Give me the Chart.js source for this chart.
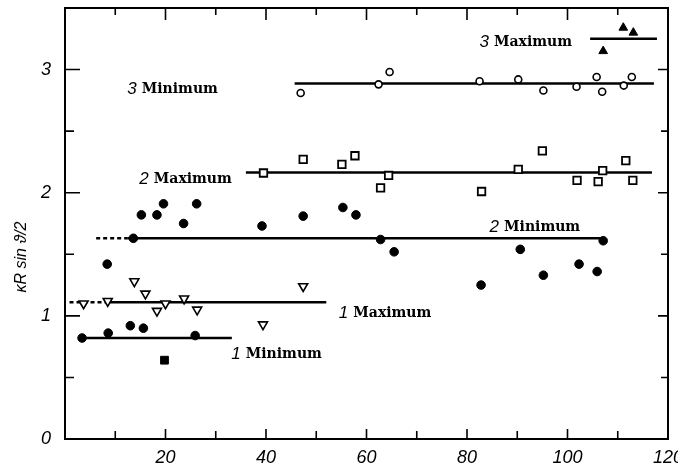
<!DOCTYPE html>
<html>
<head>
<meta charset="utf-8">
<script src="https://cdn.jsdelivr.net/npm/chart.js@4.4.1/dist/chart.umd.min.js"></script>
<style>
  html, body { margin:0; padding:0; background:#fff; }
  #wrap { width:678px; height:466px; }
</style>
</head>
<body>
<div id="wrap"><canvas id="chart" width="678" height="466"></canvas></div>
<script>
// ---- data ----
// filled circles, 1st minimum
const min1X = [3.4, 8.6, 13.0, 15.6, 25.9];
const min1Y = [0.82, 0.86, 0.92, 0.90, 0.84];
// filled square
const sqFilledX = [19.8];
const sqFilledY = [0.64];
// open triangles (down), 1st maximum
const max1X = [3.7, 8.5, 13.8, 16.0, 18.3, 20.0, 23.7, 26.3, 39.4, 47.4];
const max1Y = [1.10, 1.12, 1.28, 1.18, 1.04, 1.10, 1.14, 1.05, 0.93, 1.24];
// filled circles, 2nd minimum
const min2X = [8.4, 13.6, 15.2, 18.3, 19.6, 23.6, 26.2, 39.2, 47.4, 55.3, 57.9, 62.8, 65.5,
               82.8, 90.6, 95.2, 102.3, 105.9, 107.1];
const min2Y = [1.42, 1.63, 1.82, 1.82, 1.91, 1.75, 1.91, 1.73, 1.81, 1.88, 1.82, 1.62, 1.52,
               1.25, 1.54, 1.33, 1.42, 1.36, 1.61];
// open squares, 2nd maximum
const max2X = [39.5, 47.4, 55.1, 57.7, 62.8, 64.4, 82.9, 90.2, 95.0, 101.9, 106.1, 107.0, 111.6, 113.0];
const max2Y = [2.16, 2.27, 2.23, 2.30, 2.04, 2.14, 2.01, 2.19, 2.34, 2.10, 2.09, 2.18, 2.26, 2.10];
// open circles, 3rd minimum
const min3X = [46.9, 62.4, 64.6, 82.5, 90.2, 95.2, 101.8, 105.8, 106.9, 111.2, 112.8];
const min3Y = [2.81, 2.88, 2.98, 2.905, 2.92, 2.83, 2.86, 2.94, 2.82, 2.87, 2.94];
// filled triangles, 3rd maximum
const max3X = [107.1, 111.1, 113.1];
const max3Y = [3.15, 3.34, 3.30];

// mean levels (horizontal lines)
const levelY    = [0.82, 1.11, 1.63, 2.165, 2.886, 3.25];
const levelFrom = [3.4, 8.0, 12.5, 36.0, 45.7, 104.5];
const levelTo   = [33.2, 52.0, 107.0, 116.8, 117.2, 117.8];
const leadFrom  = [null, 0.9, 6.2, null, null, null]; // dashed lead-in, ends at levelFrom

// axis ticks
const xMajor = [20, 40, 60, 80, 100];
const xMinor = [10, 30, 50, 70, 90, 110];
const yMajor = [1, 2, 3];
const yMinor = [0.5, 1.5, 2.5];

// curve labels
const labels = [
  { num: "3", word: "Minimum", x: 12.4, y: 2.84 },
  { num: "2", word: "Maximum", x: 14.8, y: 2.11 },
  { num: "3", word: "Maximum", x: 82.5, y: 3.22 },
  { num: "2", word: "Minimum", x: 84.5, y: 1.72 },
  { num: "1", word: "Maximum", x: 54.5, y: 1.02 },
  { num: "1", word: "Minimum", x: 33.1, y: 0.69 }
];

const pts = (xs, ys) => xs.map((x, i) => ({ x, y: ys[i] }));

const datasets = [];

// lines
levelY.forEach((y, i) => {
  datasets.push({
    type: "line", order: 2,
    data: [{ x: levelFrom[i], y }, { x: levelTo[i], y }],
    borderColor: "#000", borderWidth: 2.5, pointRadius: 0
  });
  if (leadFrom[i] != null) {
    datasets.push({
      type: "line", order: 2,
      data: [{ x: leadFrom[i], y }, { x: levelFrom[i], y }],
      borderColor: "#000", borderWidth: 2.5, borderDash: [4, 3], pointRadius: 0
    });
  }
});

function marks(xs, ys, style, fill, r, bw, rot){
  datasets.push({
    type: "scatter", order: 1,
    data: pts(xs, ys),
    pointStyle: style,
    pointRadius: r,
    pointBorderWidth: bw,
    pointRotation: rot || 0,
    pointBackgroundColor: fill ? "#000" : "#fff",
    pointBorderColor: "#000"
  });
}

marks(min1X, min1Y, "circle", true, 4.3, 1);
marks(min2X, min2Y, "circle", true, 4.3, 1);
marks(sqFilledX, sqFilledY, "rect", true, 5.5, 1);
marks(max1X, max1Y, "triangle", false, 5.2, 1.6, 180);
marks(max2X, max2Y, "rect", false, 5.3, 1.8);
marks(min3X, min3Y, "circle", false, 3.5, 1.6);
marks(max3X, max3Y, "triangle", true, 5, 1);

const tickFont = "'Liberation Sans Narrow', 'Liberation Sans'";

const frame = {
  id: "frame",
  afterDraw(chart){
    const { ctx, chartArea: a, scales: { x, y } } = chart;
    ctx.save();
    ctx.strokeStyle = "#000";
    ctx.lineWidth = 2;
    ctx.strokeRect(a.left, a.top, a.right - a.left, a.bottom - a.top);

    ctx.lineWidth = 1.6;
    ctx.beginPath();
    const xt = (v, lb, lt) => {
      const px = x.getPixelForValue(v);
      ctx.moveTo(px, a.bottom); ctx.lineTo(px, a.bottom - lb);
      ctx.moveTo(px, a.top); ctx.lineTo(px, a.top + lt);
    };
    xMajor.forEach(v => xt(v, 10, 12));
    xMinor.forEach(v => xt(v, 8, 7));
    const yt = (v, ll, lr) => {
      const py = y.getPixelForValue(v);
      ctx.moveTo(a.left, py); ctx.lineTo(a.left + ll, py);
      ctx.moveTo(a.right, py); ctx.lineTo(a.right - lr, py);
    };
    yMajor.forEach(v => yt(v, 15, 10));
    yMinor.forEach(v => yt(v, 9, 7));
    ctx.stroke();

    // curve labels
    ctx.fillStyle = "#000";
    ctx.textBaseline = "middle";
    labels.forEach(l => {
      const px = x.getPixelForValue(l.x);
      const py = y.getPixelForValue(l.y);
      ctx.font = "italic 17px 'Liberation Sans'";
      ctx.textAlign = "left";
      ctx.fillText(l.num, px, py);
      const w = ctx.measureText(l.num).width;
      ctx.font = "bold 14px 'DejaVu Serif'";
      ctx.fillText(l.word, px + w + 5, py);
    });

    // y axis title
    ctx.translate(22, 257);
    ctx.rotate(-Math.PI / 2);
    ctx.textAlign = "center";
    ctx.font = "italic 16px 'Liberation Sans'";
    ctx.fillText("κR sin ϑ/2", 0, 0);
    ctx.restore();
  }
};

new Chart(document.getElementById("chart"), {
  data: { datasets },
  options: {
    responsive: false,
    animation: false,
    layout: { padding: { top: 8, right: 10, left: 0, bottom: 0 } },
    plugins: { legend: { display: false }, tooltip: { enabled: false } },
    scales: {
      x: {
        type: "linear", min: 0, max: 120,
        grid: { display: false, drawTicks: false },
        border: { display: false },
        ticks: {
          stepSize: 20, padding: 8, color: "#000",
          font: { family: tickFont, style: "italic", size: 18 },
          callback: v => v === 0 ? "" : v
        },
        afterFit: s => { s.height = 27; s.paddingLeft = 0; s.paddingRight = 0; }
      },
      y: {
        type: "linear", min: 0, max: 3.5,
        grid: { display: false, drawTicks: false },
        border: { display: false },
        ticks: {
          stepSize: 0.5, padding: 14, color: "#000",
          font: { family: tickFont, style: "italic", size: 18 },
          callback: v => Number.isInteger(v) ? v : ""
        },
        afterFit: s => { s.width = 65; s.paddingTop = 0; s.paddingBottom = 0; }
      }
    }
  },
  plugins: [frame]
});
</script>
</body>
</html>
